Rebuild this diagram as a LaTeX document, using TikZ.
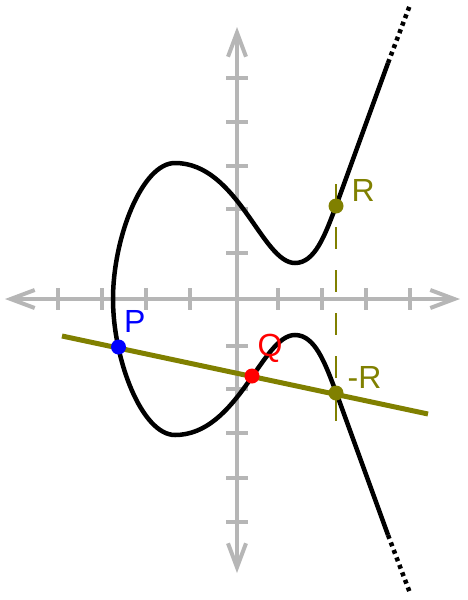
\documentclass[tikz,border=0pt]{standalone}
\usepackage{fontspec}
\setmainfont{Liberation Sans}
\usepackage{xcolor}
\usetikzlibrary{arrows.meta,positioning}
\definecolor{axisgray}{RGB}{182,182,182}
\definecolor{secolive}{RGB}{128,128,0}

\begin{document}
\begin{tikzpicture}[
    x=1pt, y=-1pt,
    axis/.style={draw=axisgray, line width=4pt, {Straight Barb[length=24pt,width=18pt]}-{Straight Barb[length=24pt,width=18pt]}},
    tickmark/.style={draw=axisgray, line width=4pt},
    curve/.style={draw=black, line width=4.5pt},
    tail/.style={draw=black, line width=4.5pt, dash pattern=on 4pt off 4pt},
    secant/.style={draw=secolive, line width=5pt},
    mirror/.style={draw=secolive, line width=2pt, dash pattern=on 22pt off 21pt},
    dot/.style={circle, inner sep=0pt, minimum size=15pt},
    lbl/.style={font=\fontsize{32}{32}\selectfont, inner sep=0pt}
  ]
    \useasboundingbox (0,0) rectangle (468,600);

    % axes
    \draw[axis] (5,299) -- (460,299);
    \draw[axis] (237,573) -- (237,27);
    \foreach \x in {58,102,146,190,278,322,366,410}
      \draw[tickmark] (\x,288) -- (\x,310);
    \foreach \y in {78,122,166,209,253,346,389,433,478,522}
      \draw[tickmark] (226,\y) -- (248,\y);

    % curve
    \draw[curve] (388,63) -- (336,206)
      .. controls (325,235) and (315,263) .. (295,263)
      .. controls (262,263) and (238,163) .. (175,163)
      .. controls (142,163) and (113,238) .. (113,299)
      .. controls (113,360) and (142,435) .. (175,435)
      .. controls (238,435) and (262,335) .. (295,335)
      .. controls (315,335) and (325,363) .. (336,392) -- (388,535);
    \draw[tail] (388,63) -- (410,5);
    \draw[tail] (388,535) -- (410,593);

    % secant and reflection
    \coordinate (refltop) at (336,184);
    \coordinate (reflbot) at (336,422);
    \draw[mirror] (refltop) -- (reflbot);
    \coordinate (secL) at (62,336);
    \coordinate (secR) at (428,414);
    \draw[secant] (secL) -- (secR);

    \node[dot, fill=blue] (P) at (118.5,347) {};
    \node[dot, fill=red] (Q) at (252,376) {};
    \node[dot, fill=secolive] (R) at (336,206) {};
    \node[dot, fill=secolive] (mR) at (336,393) {};

    \node[lbl, text=blue, above right=9pt and 0pt of P] (Plbl) {P};
    \node[lbl, text=red, above right=8pt and 0pt of Q] (Qlbl) {Q};
    \node[lbl, text=secolive, above right=-1pt and 10pt of R] (Rlbl) {R};
    \node[lbl, text=secolive, above right=-1pt and 6pt of mR] (mRlbl) {-R};
  \end{tikzpicture}
\end{document}
